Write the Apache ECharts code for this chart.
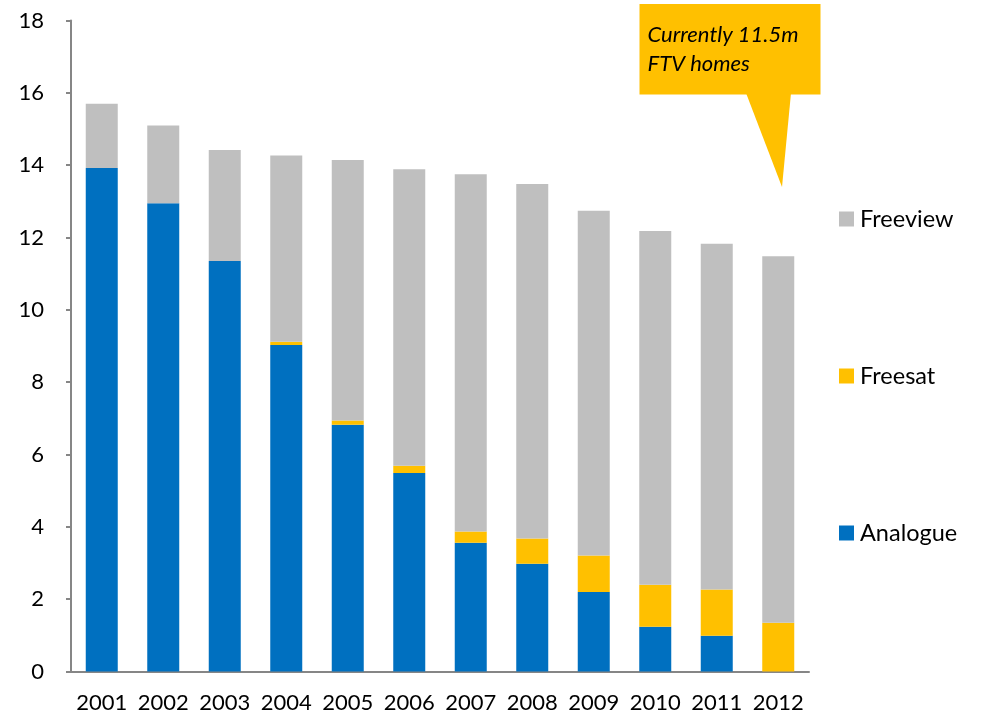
<!DOCTYPE html>
<html>
<head>
<meta charset="utf-8">
<script src="https://cdn.jsdelivr.net/npm/echarts@6/dist/echarts.min.js"></script>
<style>
  html, body { margin: 0; padding: 0; background: #fff; }
  #chart { width: 982px; height: 717px; }
</style>
</head>
<body>
<div id="chart"></div>
<script>
// values (millions of homes)
const years = ['2001', '2002', '2003', '2004', '2005', '2006', '2007', '2008', '2009', '2010', '2011', '2012']
const analogue = [13.92, 12.95, 11.35, 9.03, 6.82, 5.49, 3.56, 2.98, 2.20, 1.24, 0.99, 0]
const freesat = [0, 0, 0, 0.09, 0.12, 0.20, 0.31, 0.70, 1.01, 1.16, 1.28, 1.35]
const freeview = [1.78, 2.15, 3.07, 5.15, 7.20, 8.20, 9.88, 9.80, 9.53, 9.78, 9.56, 10.13]
const yTicks = [0, 2, 4, 6, 8, 10, 12, 14, 16, 18]
const calloutText = 'Currently 11.5m\nFTV homes'

const font = 'Lato'
const axisColor = '#868686'

const chart = echarts.init(document.getElementById('chart'))

const option = {
  animation: false,
  backgroundColor: '#fff',
  grid: {
    left: 71,
    right: 173,
    top: 20.5,
    bottom: 45.5
  },
  legend: {
    orient: 'vertical',
    left: 839,
    top: 207,
    padding: 0,
    itemWidth: 15,
    itemHeight: 15,
    itemGap: 133,
    icon: 'rect',
    data: ['Freeview', 'Freesat', 'Analogue'],
    textStyle: {
      fontFamily: font,
      fontSize: 23.5,
      color: '#000',
      padding: [0, 0, 0, 1]
    }
  },
  xAxis: {
    type: 'category',
    data: years,
    axisLine: { lineStyle: { color: axisColor, width: 2 } },
    axisTick: { length: 7, lineStyle: { color: axisColor, width: 2 } },
    axisLabel: {
      fontFamily: font,
      fontSize: 22,
      color: '#000',
      margin: 20,
      interval: 0
    }
  },
  yAxis: {
    type: 'value',
    min: yTicks[0],
    max: yTicks[yTicks.length - 1],
    interval: 2,
    splitLine: { show: false },
    axisLine: { show: true, lineStyle: { color: axisColor, width: 2 } },
    axisTick: { show: true, length: 5, lineStyle: { color: axisColor, width: 2 } },
    axisLabel: {
      fontFamily: font,
      fontSize: 22,
      color: '#000',
      margin: 27
    }
  },
  series: [
    {
      name: 'Analogue',
      type: 'bar',
      stack: 'homes',
      barWidth: 32,
      data: analogue,
      itemStyle: { color: '#0070C0' }
    },
    {
      name: 'Freesat',
      type: 'bar',
      stack: 'homes',
      barWidth: 32,
      data: freesat,
      itemStyle: { color: '#FFC000' }
    },
    {
      name: 'Freeview',
      type: 'bar',
      stack: 'homes',
      barWidth: 32,
      data: freeview,
      itemStyle: { color: '#BFBFBF' }
    }
  ],
  graphic: [
    {
      type: 'group',
      children: [
        {
          type: 'rect',
          shape: { x: 639.5, y: 4, width: 181, height: 90.5 },
          style: { fill: '#FFC000' }
        },
        {
          type: 'polygon',
          shape: { points: [[746, 93], [791, 93], [782, 187]] },
          style: { fill: '#FFC000' }
        },
        {
          type: 'text',
          x: 647.5,
          y: 21,
          style: {
            text: calloutText,
            fontFamily: font,
            fontStyle: 'italic',
            fontSize: 22,
            lineHeight: 28.5,
            fill: '#000',
            verticalAlign: 'top'
          }
        }
      ]
    }
  ]
}

chart.setOption(option)
</script>
</body>
</html>
